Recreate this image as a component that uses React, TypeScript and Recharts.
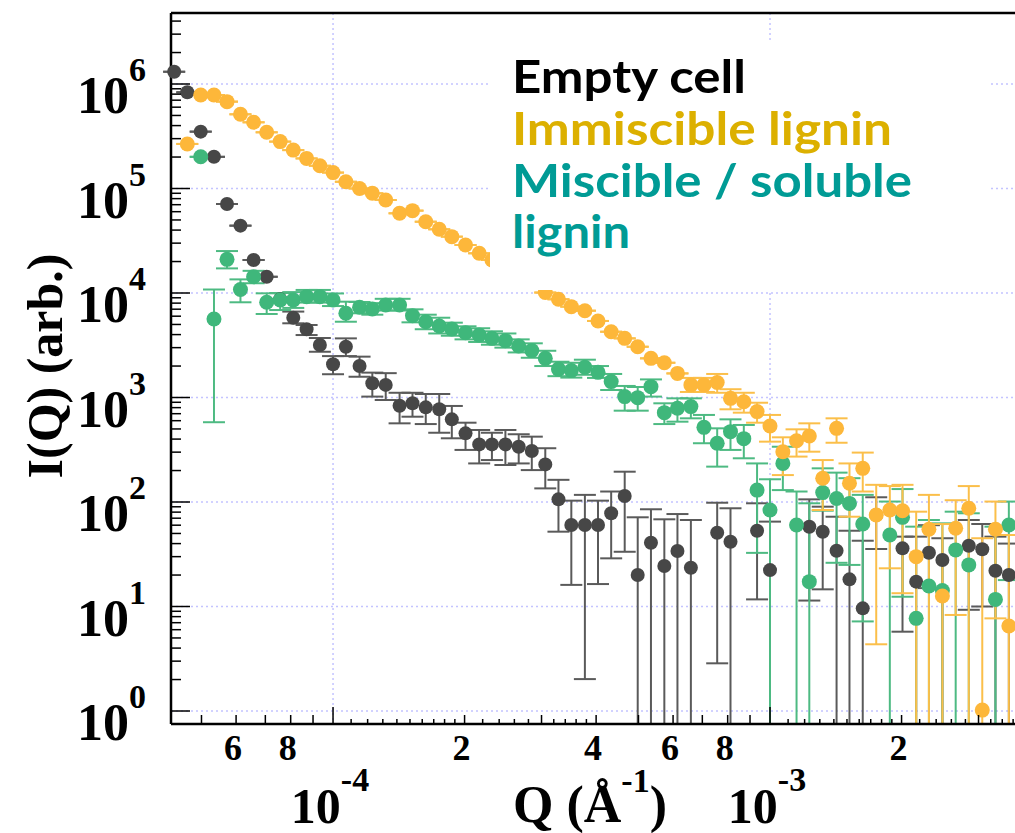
import React from "react";
import { ScatterChart, Scatter, XAxis, YAxis, ErrorBar, CartesianGrid } from "recharts";

// Empty cell (grey)
const emptyQ = [4.33e-5, 4.64e-5, 4.98e-5, 5.34e-5, 5.72e-5, 6.14e-5, 6.58e-5, 7.05e-5, 7.57e-5, 8.11e-5, 8.7e-5, 9.33e-5, 1.0e-4, 1.07e-4, 1.15e-4, 1.23e-4, 1.32e-4, 1.42e-4, 1.52e-4, 1.63e-4, 1.75e-4, 1.87e-4, 2.01e-4, 2.16e-4, 2.31e-4, 2.48e-4, 2.66e-4, 2.85e-4, 3.06e-4, 3.28e-4, 3.51e-4, 3.77e-4, 4.04e-4, 4.33e-4, 4.65e-4, 4.98e-4, 5.34e-4, 5.73e-4, 6.14e-4, 6.59e-4, 7.57e-4, 8.12e-4, 9.34e-4, 1.0e-3, 1.23e-3, 1.32e-3, 1.42e-3, 1.52e-3, 1.63e-3, 1.75e-3, 2.01e-3, 2.16e-3, 2.31e-3, 2.48e-3, 2.85e-3, 3.06e-3, 3.28e-3, 3.52e-3];
const emptyI = [1.31e6, 8.33e5, 3.5e5, 2.01e5, 7.11e4, 4.41e4, 2.07e4, 1.43e4, 8.7e3, 5.8e3, 4.5e3, 3.18e3, 2.08e3, 3.06e3, 2.0e3, 1.37e3, 1.32e3, 835, 880, 805, 771, 618, 454, 356, 356, 356, 338, 308, 229, 106, 60.3, 60.3, 60.3, 78, 114, 20, 40.8, 24.4, 34, 23.5, 50.8, 41.7, 53.1, 22.3, 58, 52, 34.2, 18.2, 9.6, 75, 36, 17.3, 32.7, 27.9, 38.2, 35.3, 22, 20];
const emptyHi = [null, null, null, null, null, null, null, null, null, 6.64e3, 4.94e3, 3.71e3, 2.49e3, 3.68e3, 2.46e3, 1.73e3, 1.71e3, 1.11e3, 1.11e3, 1.08e3, 1.08e3, 830, 574, 489, 460, 489, 445, 422, 327, 163, 103, 117, 103, 126, 195, 71.4, 85.2, 68.3, 76.7, 67.3, 98.4, 87.1, 97.2, 64.9, 106, 90.2, 72.3, 53.1, 42.6, 111, 46.6, 46.6, 60, 45, 67.3, 61.6, 46.6, 40];
const emptyLo = [null, null, null, null, null, null, null, null, null, 5.13e3, 3.96e3, 2.74e3, 1.67e3, 2.49e3, 1.58e3, 1.02e3, 946, 566, 655, 557, 460, 407, 315, 234, 252, 226, 234, 202, 135, 52, 16.1, 2.02, 16.4, 28.9, 33.4, 0, 0, 0, 0, 0, 2.86, 0, 11.7, 0, 11.4, 14.6, 0, 0, 0, 35.5, 5.74, 0, 15, 0, 9.3, 10, 0, 0];

// Immiscible lignin (orange)
const immQ = [4.64e-5, 4.98e-5, 5.34e-5, 5.72e-5, 6.14e-5, 6.58e-5, 7.05e-5, 7.57e-5, 8.11e-5, 8.7e-5, 9.33e-5, 1.0e-4, 1.07e-4, 1.15e-4, 1.23e-4, 1.32e-4, 1.42e-4, 1.52e-4, 1.63e-4, 1.75e-4, 1.87e-4, 2.01e-4, 2.16e-4, 2.31e-4, 3.06e-4, 3.28e-4, 3.51e-4, 3.77e-4, 4.04e-4, 4.33e-4, 4.65e-4, 4.98e-4, 5.34e-4, 5.73e-4, 6.14e-4, 6.59e-4, 7.06e-4, 7.57e-4, 8.12e-4, 8.71e-4, 9.34e-4, 1.0e-3, 1.07e-3, 1.15e-3, 1.23e-3, 1.32e-3, 1.42e-3, 1.52e-3, 1.63e-3, 1.75e-3, 1.88e-3, 2.01e-3, 2.16e-3, 2.31e-3, 2.48e-3, 2.66e-3, 2.85e-3, 3.06e-3, 3.28e-3, 3.52e-3];
const immI = [2.67e5, 7.85e5, 7.85e5, 6.78e5, 5.13e5, 4.3e5, 3.45e5, 2.81e5, 2.33e5, 1.94e5, 1.65e5, 1.42e5, 1.16e5, 1.0e5, 9.0e4, 7.76e4, 5.79e4, 6.14e4, 4.81e4, 4.07e4, 3.46e4, 2.88e4, 2.4e4, 2.07e4, 1.01e4, 8.71e3, 7.4e3, 6.77e3, 5.4e3, 4.26e3, 3.68e3, 3.06e3, 2.37e3, 2.15e3, 1.7e3, 1.32e3, 1.32e3, 1.39e3, 982, 912, 733, 533, 303, 386, 428, 169, 507, 151, 210, 75.2, 83.8, 82.6, 30, 54.8, 12.6, 56, 87.1, 1.02, 54.8, 6.5];
const immHi = [null, null, null, null, null, null, null, null, null, null, null, null, null, null, null, null, null, null, null, null, null, null, null, null, null, null, null, null, null, null, null, null, null, null, null, 1.54e3, 1.54e3, 1.68e3, 1.2e3, 1.11e3, 891, 681, 416, 496, 566, 252, 632, 234, 297, 146, 142, 146, 80.8, 117, 61.5, 104, 142, 45, 101, 48.3];
const immLo = [null, null, null, null, null, null, null, null, null, null, null, null, null, null, null, null, null, null, null, null, null, null, null, null, null, null, null, null, null, null, null, null, null, null, null, 1.13e3, 1.13e3, 1.11e3, 771, 716, 574, 378, 181, 272, 303, 83.8, 369, 72.3, 126, 4.35, 23.2, 13.4, 0, 0, 0, 8.3, 0, 0, 7.7, 0];

// Miscible / soluble lignin (green)
const misQ = [4.98e-5, 5.34e-5, 5.72e-5, 6.14e-5, 6.58e-5, 7.05e-5, 7.57e-5, 8.11e-5, 8.7e-5, 9.33e-5, 1.0e-4, 1.07e-4, 1.15e-4, 1.23e-4, 1.32e-4, 1.42e-4, 1.52e-4, 1.63e-4, 1.75e-4, 1.87e-4, 2.01e-4, 2.16e-4, 2.31e-4, 2.48e-4, 2.66e-4, 2.85e-4, 3.06e-4, 3.28e-4, 3.51e-4, 3.77e-4, 4.04e-4, 4.33e-4, 4.65e-4, 4.98e-4, 5.34e-4, 5.73e-4, 6.14e-4, 6.59e-4, 7.06e-4, 7.57e-4, 8.12e-4, 8.71e-4, 9.34e-4, 1.0e-3, 1.07e-3, 1.15e-3, 1.23e-3, 1.32e-3, 1.42e-3, 1.52e-3, 1.63e-3, 1.88e-3, 2.01e-3, 2.16e-3, 2.31e-3, 2.48e-3, 2.66e-3, 2.85e-3, 3.28e-3, 3.52e-3];
const misI = [2.01e5, 5.64e3, 2.1e4, 1.08e4, 1.43e4, 8.15e3, 8.57e3, 8.57e3, 9.23e3, 9.23e3, 8.57e3, 6.4e3, 7.3e3, 7.04e3, 7.67e3, 7.67e3, 6.07e3, 5.31e3, 4.83e3, 4.53e3, 4.17e3, 3.97e3, 3.68e3, 3.5e3, 3.11e3, 2.81e3, 2.37e3, 1.87e3, 1.81e3, 1.95e3, 1.74e3, 1.42e3, 1.02e3, 997, 1.27e3, 716, 788, 818, 518, 365, 471, 404, 130, 83.8, 234, 60.3, 17.3, 123, 108, 97, 61.5, 48.3, 71.3, 7.7, 15.7, 14.2, 34.8, 25, 11.7, 60.3];
const misHi = [null, 1.08e4, 2.52e4, 1.35e4, 1.63e4, 9.93e3, 1.0e4, 1.02e4, 1.07e4, 1.07e4, 9.9e3, 8.26e3, 8.2e3, 8.0e3, 8.8e3, 8.8e3, 6.98e3, 6.2e3, 5.8e3, 5.2e3, 4.8e3, 4.6e3, 4.3e3, 4.1e3, 3.6e3, 3.3e3, 2.8e3, 2.2e3, 2.15e3, 2.3e3, 2.0e3, 1.68e3, 1.29e3, 1.26e3, 1.49e3, 880, 982, 982, 681, 507, 618, 546, 234, 165, 338, 126, 97.2, 210, 191, 169, 117, 101, 133, 58.1, 67.3, 62.5, 80.8, 78, 58.1, 101];
const misLo = [null, 580, 1.72e4, 8.15e3, 1.24e4, 6.3e3, 6.87e3, 7.2e3, 8.1e3, 8.1e3, 7.5e3, 5.31e3, 6.4e3, 6.2e3, 6.8e3, 6.8e3, 5.24e3, 4.5e3, 4.1e3, 3.9e3, 3.6e3, 3.4e3, 3.2e3, 3.0e3, 2.7e3, 2.4e3, 2.0e3, 1.6e3, 1.55e3, 1.65e3, 1.54e3, 1.18e3, 748, 748, 1.02e3, 557, 587, 632, 365, 218, 315, 262, 32.6, 0, 130, 0, 0, 82.6, 26.2, 25, 7.2, 0, 12.4, 0, 0, 0, 0, 0, 0, 17.9];

// axis ticks
const decadesY = [1, 10, 100, 1e3, 1e4, 1e5, 1e6];
const minorMult = [2, 3, 4, 5, 6, 7, 8, 9];
const xMajor = [1e-4, 1e-3];
const xMedium = [5e-5, 6e-5, 7e-5, 8e-5, 9e-5, 2e-4, 3e-4, 4e-4, 5e-4, 6e-4, 7e-4, 8e-4, 9e-4, 2e-3, 3e-3];
const xMinor = [1.1e-4, 1.2e-4, 1.3e-4, 1.4e-4, 1.5e-4, 1.6e-4, 1.7e-4, 1.8e-4, 1.9e-4, 2.2e-4, 2.4e-4, 2.6e-4, 2.8e-4, 3.2e-4, 3.4e-4, 3.6e-4, 3.8e-4, 1.1e-3, 1.2e-3, 1.3e-3, 1.4e-3, 1.5e-3, 1.6e-3, 1.7e-3, 1.8e-3, 1.9e-3, 2.2e-3, 2.4e-3, 2.6e-3, 2.8e-3, 3.2e-3, 3.4e-3, 3.6e-3];
const xDigitLabels: [number, string][] = [[6e-5, "6"], [8e-5, "8"], [2e-4, "2"], [4e-4, "4"], [6e-4, "6"], [8e-4, "8"], [2e-3, "2"]];
const xDecadeLabels: [number, string][] = [[1e-4, "-4"], [1e-3, "-3"]];

const X_DOMAIN = [4.258e-5, 3.733e-3];
const Y_MIN = 0.751;
const Y_DOMAIN = [Y_MIN, 4.78e6];

const COLORS = {
  empty: "#474747",
  emptyBar: "#5a5a5a",
  imm: "#fdb73a",
  immBar: "#fbbf4a",
  mis: "#3fb77b",
  misBar: "#4dba82",
  grid: "#c4c4ff",
};

function rows(q: number[], v: number[], hi: (number | null)[], lo: (number | null)[]) {
  return q.map((qq, k) => {
    const val = v[k];
    const h = hi[k] ?? val;
    const l = Math.max(lo[k] ?? val, Y_MIN);
    return { q: qq, v: val, err: [Math.max(val - l, 0), Math.max(h - val, 0)] };
  });
}

const emptyRows = rows(emptyQ, emptyI, emptyHi, emptyLo);
const immRows = rows(immQ, immI, immHi, immLo);
const misRows = rows(misQ, misI, misHi, misLo);

const yTicks = decadesY.flatMap((d) => [d, ...minorMult.map((m) => m * d)]).filter((v) => v >= Y_DOMAIN[0] && v <= Y_DOMAIN[1]);
const xTicks = [...xMajor, ...xMedium, ...xMinor].sort((a, b) => a - b);
const xLen = new Map<number, number>();
xMajor.forEach((v) => xLen.set(v, 17));
xMedium.forEach((v) => xLen.set(v, 9));
xMinor.forEach((v) => xLen.set(v, 5));
const digitLabel = new Map(xDigitLabels);
const decadeLabel = new Map(xDecadeLabels);
const isDecade = (v: number) => decadesY.includes(v);

const SERIF = "'Liberation Serif', 'Times New Roman', serif";
const PLOT_LEFT = 171;
const PLOT_TOP = 13;
const PLOT_RIGHT = 1020;
const PLOT_BOTTOM = 724;

function BottomTick(props: any) {
  const { x, payload } = props;
  const y = PLOT_BOTTOM;
  const v = payload.value;
  const len = xLen.get(v) ?? 5;
  return (
    <g>
      <line x1={x} x2={x} y1={y} y2={y - len} stroke="#000" strokeWidth={1.5} />
      {digitLabel.has(v) && (
        <text x={x - 3} y={y + 36} textAnchor="middle" fontFamily={SERIF} fontWeight="bold" fontSize={36} fill="#000">
          {digitLabel.get(v)}
        </text>
      )}
      {decadeLabel.has(v) && (
        <text x={x - 3} y={y + 99} textAnchor="middle" fontFamily={SERIF} fontWeight="bold" fontSize={50} fill="#000">
          10
          <tspan dy={-32} fontSize={34}>{decadeLabel.get(v)}</tspan>
        </text>
      )}
    </g>
  );
}

function TopTick(props: any) {
  const { x, payload } = props;
  const len = xLen.get(payload.value) ?? 5;
  return <line x1={x} x2={x} y1={PLOT_TOP} y2={PLOT_TOP + len} stroke="#000" strokeWidth={1.5} />;
}

function LeftTick(props: any) {
  const { y, payload } = props;
  const v = payload.value;
  const dec = isDecade(v);
  return (
    <g>
      <line x1={PLOT_LEFT} x2={PLOT_LEFT + (dec ? 19 : 10)} y1={y} y2={y} stroke="#000" strokeWidth={1.5} />
      {dec && (
        <text x={146} y={y + 29} textAnchor="end" fontFamily={SERIF} fontWeight="bold" fontSize={52} fill="#000">
          10
          <tspan dy={-32} fontSize={34}>{Math.round(Math.log10(v))}</tspan>
        </text>
      )}
    </g>
  );
}

function RightTick(props: any) {
  const { y, payload } = props;
  const dec = isDecade(payload.value);
  return <line x1={PLOT_RIGHT} x2={PLOT_RIGHT - (dec ? 19 : 10)} y1={y} y2={y} stroke="#000" strokeWidth={1.5} />;
}

const dot = (color: string, r: number) => (p: any) => <circle cx={p.cx} cy={p.cy} r={r} fill={color} />;

const axisLine = { stroke: "#000", strokeWidth: 2.5 };

export default function App() {
  return (
    <div style={{ position: "fixed", left: 0, top: 0, width: 1015, height: 833, overflow: "hidden", background: "#fff" }}>
      <ScatterChart width={1030} height={833} margin={{ top: 12, right: 9, bottom: 108, left: 170 }}>
        <CartesianGrid
          xAxisId="b"
          yAxisId="l"
          horizontalValues={decadesY}
          verticalValues={xMajor}
          stroke={COLORS.grid}
          strokeDasharray="2 3"
          strokeWidth={1.5}
        />
        <XAxis xAxisId="b" dataKey="q" type="number" scale="log" domain={X_DOMAIN} ticks={xTicks} height={1} tickSize={0} tickMargin={0} tickLine={false} axisLine={axisLine} tick={<BottomTick />} interval={0} />
        <XAxis xAxisId="t" orientation="top" dataKey="q" type="number" scale="log" domain={X_DOMAIN} ticks={xTicks} height={1} tickSize={0} tickMargin={0} tickLine={false} axisLine={axisLine} tick={<TopTick />} interval={0} />
        <YAxis yAxisId="l" dataKey="v" type="number" scale="log" domain={Y_DOMAIN} ticks={yTicks} width={1} tickSize={0} tickMargin={0} tickLine={false} axisLine={axisLine} tick={<LeftTick />} interval={0} />
        <YAxis yAxisId="r" orientation="right" dataKey="v" type="number" scale="log" domain={Y_DOMAIN} ticks={yTicks} width={1} tickSize={0} tickMargin={0} tickLine={false} axisLine={false} tick={<RightTick />} interval={0} />
        <Scatter name="Empty cell" data={emptyRows} xAxisId="b" yAxisId="l" dataKey="v" isAnimationActive={false} shape={dot(COLORS.empty, 7)}>
          <ErrorBar dataKey="err" direction="y" width={11} stroke={COLORS.emptyBar} strokeWidth={2} isAnimationActive={false} />
        </Scatter>
        <Scatter name="Miscible / soluble lignin" data={misRows} xAxisId="b" yAxisId="l" dataKey="v" isAnimationActive={false} shape={dot(COLORS.mis, 7.5)}>
          <ErrorBar dataKey="err" direction="y" width={11} stroke={COLORS.misBar} strokeWidth={2} isAnimationActive={false} />
        </Scatter>
        <Scatter name="Immiscible lignin" data={immRows} xAxisId="b" yAxisId="l" dataKey="v" isAnimationActive={false} shape={dot(COLORS.imm, 7.5)}>
          <ErrorBar dataKey="err" direction="y" width={11} stroke={COLORS.immBar} strokeWidth={2} isAnimationActive={false} />
        </Scatter>
      </ScatterChart>
      <svg width={1015} height={833} style={{ position: "absolute", left: 0, top: 0, pointerEvents: "none" }}>
        <text transform="translate(62,366) rotate(-90)" textAnchor="middle" fontFamily={SERIF} fontWeight="bold" fontSize={50} fill="#000">
          I(Q) (arb.)
        </text>
        <text x={513} y={822} fontFamily={SERIF} fontWeight="bold" fontSize={52} fill="#000">
          Q (Å
          <tspan dy={-30} fontSize={34}>-1</tspan>
          <tspan dy={30}>)</tspan>
        </text>
        <rect x={490} y={40} width={500} height={250} fill="#fff" />
        <g fontFamily="Lato, 'Open Sans', sans-serif" fontWeight="bold" fontSize={46}>
          <text x={512} y={93} fill="#000" textLength={234} lengthAdjust="spacingAndGlyphs">Empty cell</text>
          <text x={512} y={145} fill="#dcb000" textLength={380} lengthAdjust="spacingAndGlyphs">Immiscible lignin</text>
          <text x={512} y={197} fill="#009b95" textLength={400} lengthAdjust="spacingAndGlyphs">Miscible / soluble</text>
          <text x={512} y={248} fill="#009b95" textLength={118} lengthAdjust="spacingAndGlyphs">lignin</text>
        </g>
      </svg>
    </div>
  );
}
